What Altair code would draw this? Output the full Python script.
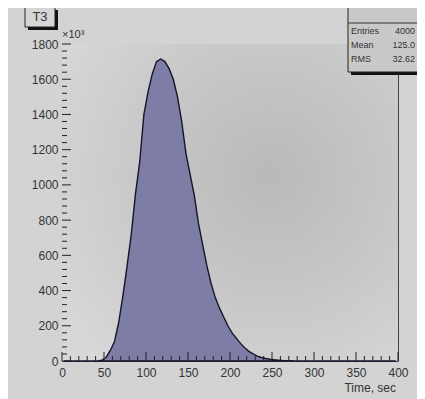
import altair as alt
import pandas as pd

# ---- data (counts in units of 10^3) ----
bin_center = [2.5 + 5 * i for i in range(80)]
counts = ([0] * 9 +
          [5, 20, 60, 110, 220, 370, 540, 720, 950, 1130, 1400, 1530, 1630, 1700,
           1715, 1700, 1660, 1600, 1500, 1360, 1180, 1060, 940, 780, 660, 540, 440,
           360, 300, 250, 200, 160, 130, 100, 75, 55, 40, 28, 20, 14, 10, 7, 5, 3, 2, 1] +
          [0] * 25)

x_labels = list(range(0, 401, 50))
y_labels = list(range(0, 1801, 200))
x_minor = list(range(0, 401, 10))
y_minor = list(range(0, 1801, 40))

stat_names = ["Entries", "Mean", "RMS"]
stat_values = ["4000", "125.0", "32.62"]

W, H = 336, 317
FONT = "Liberation Sans"
INK = "#333333"

hist = pd.DataFrame({"t": bin_center, "n": counts})

xs = alt.Scale(domain=[0, 400], nice=False, zero=False)
ys = alt.Scale(domain=[0, 1800], nice=False)

ax_x = alt.Axis(values=x_labels, ticks=False, domain=False, grid=False, labelPadding=6,
                labelFontSize=12, labelColor=INK, labelFont=FONT, format="d",
                labelOverlap=False, labelBound=False, labelFlush=False, title=None)
ax_y = alt.Axis(values=y_labels, ticks=False, domain=False, grid=False, labelPadding=4,
                labelFontSize=12, labelColor=INK, labelFont=FONT, format="d",
                labelOverlap=False, labelBound=False, labelFlush=False, title=None)

one = pd.DataFrame({"a": [0]})

bg = alt.Chart(one).mark_rect(
    fill=alt.RadialGradient(
        gradient="radial", x1=0.62, y1=0.42, x2=0.62, y2=0.42, r1=0, r2=0.75,
        stops=[alt.GradientStop(color="#b9b9b9", offset=0),
               alt.GradientStop(color="#c6c6c6", offset=0.45),
               alt.GradientStop(color="#d8d8d8", offset=1)])
).encode(x=alt.value(0), x2=alt.value(W), y=alt.value(0), y2=alt.value(H))

area = alt.Chart(hist).mark_area(
    interpolate="linear", fill="#7d7da6", stroke="#15152a", strokeWidth=1.4
).encode(
    x=alt.X("t:Q", scale=xs, axis=ax_x),
    y=alt.Y("n:Q", scale=ys, axis=ax_y),
)

# inward ticks, ROOT style
xt = pd.DataFrame({"v": x_minor, "major": [v % 50 == 0 for v in x_minor]})
x_ticks_minor = alt.Chart(xt[~xt.major]).mark_rule(color="#222", strokeWidth=1).encode(
    x=alt.X("v:Q", scale=xs, axis=ax_x), y=alt.value(H), y2=alt.value(H - 5))
x_ticks_major = alt.Chart(xt[xt.major]).mark_rule(color="#222", strokeWidth=1).encode(
    x=alt.X("v:Q", scale=xs, axis=ax_x), y=alt.value(H), y2=alt.value(H - 9))

yt = pd.DataFrame({"v": y_minor, "major": [v % 200 == 0 for v in y_minor]})
y_ticks_minor = alt.Chart(yt[~yt.major]).mark_rule(color="#222", strokeWidth=1).encode(
    y=alt.Y("v:Q", scale=ys, axis=ax_y), x=alt.value(0), x2=alt.value(5))
y_ticks_major = alt.Chart(yt[yt.major]).mark_rule(color="#222", strokeWidth=1).encode(
    y=alt.Y("v:Q", scale=ys, axis=ax_y), x=alt.value(0), x2=alt.value(9))

x_title = alt.Chart(one).mark_text(text="Time, sec", align="right", baseline="top",
                                   fontSize=12, font=FONT, color=INK).encode(
    x=alt.value(W - 2), y=alt.value(H + 22))
exp_label = alt.Chart(one).mark_text(text="×10³", align="left", baseline="bottom",
                                     fontSize=11, font=FONT, color=INK).encode(
    x=alt.value(0), y=alt.value(-4))

# title box "T3"
t_shadow = alt.Chart(one).mark_rect(fill="#111").encode(
    x=alt.value(-34), x2=alt.value(-4), y=alt.value(-34), y2=alt.value(-14))
t_box = alt.Chart(one).mark_rect(fill="#d6d6d6", stroke="#222", strokeWidth=1).encode(
    x=alt.value(-37), x2=alt.value(-7), y=alt.value(-37), y2=alt.value(-17))
t_text = alt.Chart(one).mark_text(text="T3", fontSize=13, font=FONT, color=INK).encode(
    x=alt.value(-22), y=alt.value(-27))

# stats box
s_shadow = alt.Chart(one).mark_rect(fill="#111").encode(
    x=alt.value(289), x2=alt.value(400), y=alt.value(-36), y2=alt.value(31))
s_box = alt.Chart(one).mark_rect(fill="#c9c9c9", stroke="#222", strokeWidth=1).encode(
    x=alt.value(286), x2=alt.value(400), y=alt.value(-39), y2=alt.value(28))
s_sep = alt.Chart(one).mark_rule(color="#333", strokeWidth=1).encode(
    x=alt.value(286), x2=alt.value(400), y=alt.value(-21))

row_y = [-13, 1, 15]
stat_layers = []
for name, val, ry in zip(stat_names, stat_values, row_y):
    stat_layers.append(alt.Chart(one).mark_text(
        text=name, align="left", baseline="middle", fontSize=9, font=FONT, color=INK
    ).encode(x=alt.value(289), y=alt.value(ry)))
    stat_layers.append(alt.Chart(one).mark_text(
        text=val, align="right", baseline="middle", fontSize=9, font=FONT, color=INK
    ).encode(x=alt.value(353), y=alt.value(ry)))

chart = alt.layer(
    bg, area, x_ticks_minor, x_ticks_major, y_ticks_minor, y_ticks_major,
    x_title, exp_label, t_shadow, t_box, t_text,
    s_shadow, s_box, s_sep, *stat_layers,
).properties(
    width=W, height=H,
    autosize=alt.AutoSizeParams(type="none"),
    padding={"left": 54, "top": 36, "right": 19, "bottom": 38},
    background="#d3d3d3",
).configure_view(fill="#c6c6c6", stroke="#444444", strokeWidth=1)

chart.save("out.html", embed_options={"renderer": "svg", "actions": False})
